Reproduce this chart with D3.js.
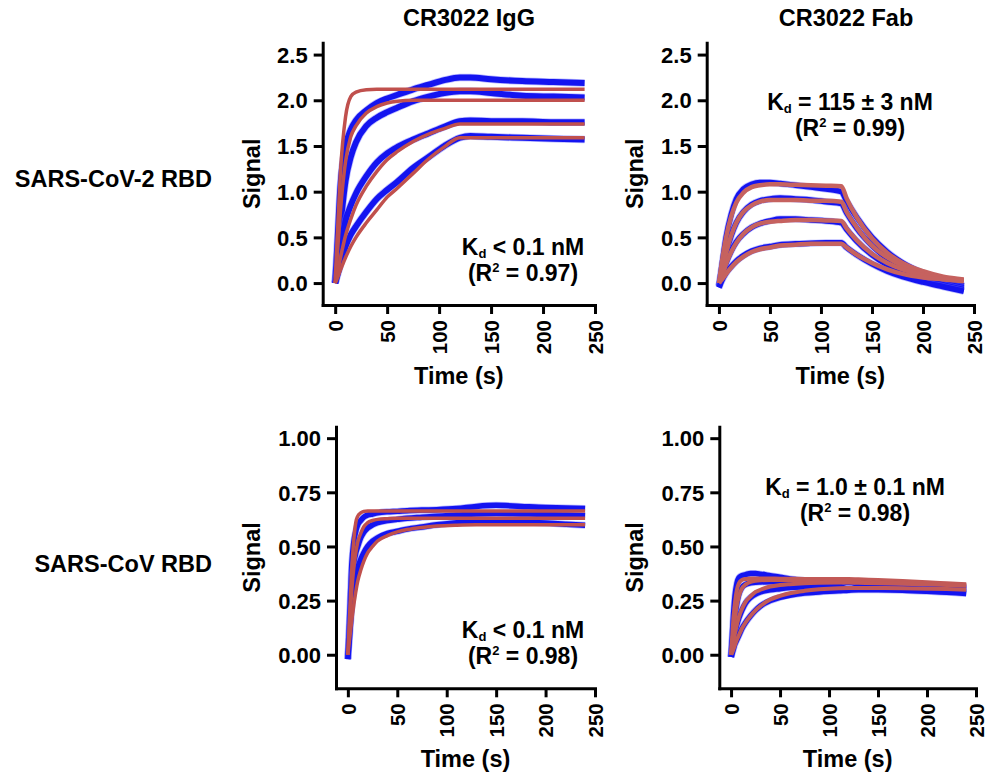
<!DOCTYPE html>
<html><head><meta charset="utf-8">
<script src="https://cdn.jsdelivr.net/npm/d3@7"></script>
<style>
body{margin:0;background:#fff;}
svg text{font-family:"Liberation Sans",Arial,Helvetica,sans-serif;font-weight:bold;fill:#000;}
</style></head><body>
<svg id="chart" width="989" height="777"></svg>
<script>
// ---------------- DATA ----------------
const columnTitles = ["CR3022 IgG", "CR3022 Fab"];
const rowTitles = ["SARS-CoV-2 RBD", "SARS-CoV RBD"];
const xTicks = [0, 50, 100, 150, 200, 250];
const yTicksTop = [0, 0.5, 1.0, 1.5, 2.0, 2.5];
const yTicksBottom = [0, 0.25, 0.5, 0.75, 1.0];
const kdLabels = ["< 0.1 nM", "= 115 ± 3 nM", "< 0.1 nM", "= 1.0 ± 0.1 nM"];
const r2Labels = ["0.97", "0.99", "0.98", "0.98"];

// Panel 1: CR3022 IgG vs SARS-CoV-2 RBD
const p1Time = [0, 2, 5, 10, 15, 20, 30, 40, 50, 60, 75, 90, 105, 120, 130, 150, 180, 210, 240];
const p1Data1 = [0, 0.4, 1.05, 1.5, 1.68, 1.78, 1.89, 1.97, 2.02, 2.06, 2.12, 2.17, 2.22, 2.25, 2.25, 2.23, 2.21, 2.2, 2.19];
const p1Data2 = [0, 0.25, 0.62, 1.12, 1.38, 1.54, 1.72, 1.81, 1.87, 1.92, 1.99, 2.04, 2.08, 2.1, 2.1, 2.08, 2.05, 2.04, 2.03];
const p1Data3 = [0, 0.12, 0.35, 0.68, 0.85, 0.98, 1.17, 1.32, 1.42, 1.49, 1.57, 1.64, 1.71, 1.77, 1.78, 1.77, 1.77, 1.76, 1.76];
const p1Data4 = [0, 0.08, 0.2, 0.4, 0.53, 0.62, 0.78, 0.92, 1.02, 1.11, 1.26, 1.38, 1.5, 1.59, 1.61, 1.6, 1.59, 1.58, 1.57];
const p1Fit1 = [0, 0.5, 1.2, 1.82, 2.04, 2.09, 2.115, 2.12, 2.12, 2.12, 2.12, 2.12, 2.12, 2.12, 2.12, 2.12, 2.12, 2.12, 2.12];
const p1Fit2 = [0, 0.3, 0.78, 1.33, 1.6, 1.72, 1.86, 1.93, 1.97, 1.99, 2, 2, 2, 2, 2, 2, 2, 2, 2];
const p1Fit3 = [0, 0.1, 0.27, 0.52, 0.7, 0.85, 1.06, 1.22, 1.35, 1.44, 1.55, 1.63, 1.69, 1.74, 1.74, 1.74, 1.74, 1.74, 1.74];
const p1Fit4 = [0, 0.05, 0.14, 0.28, 0.4, 0.5, 0.66, 0.8, 0.94, 1.04, 1.2, 1.36, 1.49, 1.59, 1.59, 1.59, 1.59, 1.59, 1.59];

// Panel 2: CR3022 Fab vs SARS-CoV-2 RBD
const p2Time = [0, 3, 7, 12, 17, 24, 32, 40, 50, 60, 75, 90, 105, 120, 125, 135, 150, 165, 180, 200, 220, 240];
const p2Data1 = [-0.03, 0.2, 0.5, 0.75, 0.92, 1.03, 1.08, 1.1, 1.1, 1.09, 1.07, 1.05, 1.03, 1.0, 0.9, 0.72, 0.5, 0.34, 0.22, 0.11, 0.03, -0.03];
const p2Data2 = [-0.03, 0.13, 0.33, 0.52, 0.66, 0.78, 0.86, 0.9, 0.92, 0.93, 0.92, 0.91, 0.89, 0.87, 0.77, 0.6, 0.41, 0.27, 0.17, 0.07, 0.0, -0.05];
const p2Data3 = [-0.04, 0.08, 0.22, 0.35, 0.45, 0.54, 0.61, 0.65, 0.68, 0.7, 0.7, 0.69, 0.68, 0.66, 0.59, 0.46, 0.31, 0.2, 0.12, 0.04, -0.02, -0.07];
const p2Data4 = [-0.05, 0.03, 0.11, 0.18, 0.24, 0.3, 0.35, 0.38, 0.4, 0.42, 0.43, 0.435, 0.44, 0.44, 0.39, 0.31, 0.21, 0.13, 0.07, 0.01, -0.04, -0.09];
const p2Fit1 = [0, 0.24, 0.5, 0.73, 0.88, 0.99, 1.05, 1.07, 1.08, 1.08, 1.075, 1.07, 1.065, 1.06, 0.93, 0.72, 0.49, 0.33, 0.22, 0.13, 0.07, 0.04];
const p2Fit2 = [0, 0.14, 0.33, 0.52, 0.66, 0.78, 0.85, 0.89, 0.91, 0.91, 0.91, 0.9, 0.9, 0.89, 0.78, 0.61, 0.41, 0.28, 0.19, 0.11, 0.06, 0.03];
const p2Fit3 = [0, 0.08, 0.21, 0.34, 0.44, 0.54, 0.61, 0.65, 0.67, 0.68, 0.69, 0.69, 0.685, 0.68, 0.6, 0.47, 0.32, 0.22, 0.15, 0.09, 0.05, 0.03];
const p2Fit4 = [0, 0.04, 0.1, 0.17, 0.23, 0.29, 0.34, 0.37, 0.39, 0.41, 0.42, 0.43, 0.43, 0.43, 0.39, 0.31, 0.22, 0.15, 0.1, 0.06, 0.04, 0.02];

// Panel 3: CR3022 IgG vs SARS-CoV RBD
const p3Time = [0, 2, 4, 6, 8, 10, 13, 16, 20, 25, 30, 40, 50, 60, 75, 90, 110, 130, 150, 175, 200, 220, 240];
const p3Data1 = [-0.02, 0.2, 0.42, 0.52, 0.57, 0.6, 0.62, 0.635, 0.645, 0.65, 0.655, 0.66, 0.662, 0.665, 0.668, 0.67, 0.675, 0.685, 0.69, 0.685, 0.68, 0.678, 0.675];
const p3Data2 = [-0.02, 0.15, 0.33, 0.42, 0.47, 0.5, 0.54, 0.565, 0.585, 0.6, 0.61, 0.62, 0.625, 0.63, 0.635, 0.64, 0.645, 0.65, 0.652, 0.65, 0.648, 0.645, 0.642];
const p3Data3 = [-0.02, 0.1, 0.22, 0.3, 0.36, 0.4, 0.44, 0.47, 0.5, 0.525, 0.54, 0.56, 0.57, 0.58, 0.59, 0.6, 0.61, 0.615, 0.617, 0.613, 0.608, 0.603, 0.598];
const p3Fit1 = [0, 0.2, 0.4, 0.53, 0.61, 0.64, 0.655, 0.662, 0.664, 0.664, 0.664, 0.664, 0.664, 0.664, 0.664, 0.664, 0.664, 0.664, 0.664, 0.664, 0.664, 0.664, 0.664];
const p3Fit2 = [0, 0.16, 0.3, 0.4, 0.47, 0.52, 0.56, 0.59, 0.61, 0.62, 0.625, 0.628, 0.63, 0.63, 0.63, 0.63, 0.63, 0.63, 0.63, 0.63, 0.63, 0.63, 0.63];
const p3Fit3 = [0, 0.08, 0.16, 0.23, 0.29, 0.34, 0.39, 0.43, 0.47, 0.5, 0.525, 0.55, 0.567, 0.578, 0.588, 0.594, 0.598, 0.6, 0.6, 0.6, 0.6, 0.6, 0.6];

// Panel 4: CR3022 Fab vs SARS-CoV RBD
const p4Time = [0, 2, 4, 6, 8, 11, 15, 20, 25, 30, 40, 50, 60, 75, 90, 110, 120, 130, 150, 175, 200, 220, 240];
const p4Data1 = [-0.01, 0.15, 0.27, 0.33, 0.355, 0.365, 0.37, 0.375, 0.375, 0.372, 0.365, 0.358, 0.35, 0.343, 0.338, 0.335, 0.333, 0.332, 0.328, 0.322, 0.315, 0.308, 0.302];
const p4Data2 = [-0.01, 0.1, 0.18, 0.24, 0.28, 0.31, 0.325, 0.332, 0.335, 0.336, 0.337, 0.337, 0.337, 0.337, 0.337, 0.337, 0.336, 0.335, 0.33, 0.325, 0.32, 0.315, 0.31];
const p4Data3 = [-0.01, 0.05, 0.1, 0.14, 0.17, 0.205, 0.24, 0.265, 0.28, 0.29, 0.3, 0.305, 0.31, 0.313, 0.315, 0.316, 0.3, 0.315, 0.313, 0.307, 0.3, 0.295, 0.29];
const p4Data4 = [-0.01, 0.02, 0.05, 0.07, 0.09, 0.12, 0.15, 0.18, 0.205, 0.225, 0.25, 0.265, 0.275, 0.285, 0.29, 0.295, 0.298, 0.3, 0.3, 0.298, 0.293, 0.288, 0.283];
const p4Fit1 = [0, 0.14, 0.24, 0.3, 0.33, 0.345, 0.35, 0.352, 0.352, 0.352, 0.352, 0.351, 0.351, 0.35, 0.35, 0.35, 0.35, 0.348, 0.345, 0.34, 0.335, 0.33, 0.325];
const p4Fit2 = [0, 0.09, 0.17, 0.23, 0.27, 0.305, 0.325, 0.337, 0.342, 0.344, 0.345, 0.345, 0.345, 0.345, 0.344, 0.344, 0.343, 0.342, 0.338, 0.334, 0.33, 0.326, 0.322];
const p4Fit3 = [0, 0.05, 0.1, 0.14, 0.175, 0.21, 0.245, 0.27, 0.29, 0.3, 0.315, 0.322, 0.326, 0.33, 0.332, 0.333, 0.333, 0.332, 0.33, 0.328, 0.325, 0.322, 0.318];
const p4Fit4 = [0, 0.02, 0.045, 0.07, 0.09, 0.12, 0.15, 0.18, 0.205, 0.225, 0.255, 0.272, 0.284, 0.295, 0.302, 0.307, 0.308, 0.308, 0.308, 0.307, 0.305, 0.303, 0.3];

// ---------------- LAYOUT ----------------
const panels = [
  {time: p1Time, data: [p1Data1, p1Data2, p1Data3, p1Data4], fit: [p1Fit1, p1Fit2, p1Fit3, p1Fit4],
   left: 322.7, right: 595, top: 42.7, bottom: 305, xMin: -12, yDom: [-0.24, 2.63], yTicks: yTicksTop, fmt: ".1f",
   annX: 523, annY: 255, sigX: 260, blueW: 6, redW: 3.5, red: "#c0504d"},
  {time: p2Time, data: [p2Data1, p2Data2, p2Data3, p2Data4], fit: [p2Fit1, p2Fit2, p2Fit3, p2Fit4],
   left: 706.7, right: 974, top: 42.7, bottom: 305, xMin: -12, yDom: [-0.24, 2.63], yTicks: yTicksTop, fmt: ".1f",
   annX: 850, annY: 110, sigX: 643, blueW: 5.5, redW: 4.5, red: "#c6625f"},
  {time: p3Time, data: [p3Data1, p3Data2, p3Data3], fit: [p3Fit1, p3Fit2, p3Fit3],
   left: 336, right: 595, top: 426.7, bottom: 688.3, xMin: -12, yDom: [-0.155, 1.053], yTicks: yTicksBottom, fmt: ".2f",
   annX: 523, annY: 638, sigX: 260, blueW: 5.5, redW: 3.5, red: "#c0504d"},
  {time: p4Time, data: [p4Data1, p4Data2, p4Data3, p4Data4], fit: [p4Fit1, p4Fit2, p4Fit3, p4Fit4],
   left: 719.3, right: 976, top: 426.7, bottom: 688.3, xMin: -12, yDom: [-0.155, 1.053], yTicks: yTicksBottom, fmt: ".2f",
   annX: 855, annY: 495, sigX: 643, blueW: 5.5, redW: 4, red: "#c25a57"}
];

const svg = d3.select("#chart");
const BLUE = "#1414f0";

// Column titles
[[469, columnTitles[0]], [846, columnTitles[1]]].forEach(([x, t]) =>
  svg.append("text").attr("x", x).attr("y", 26).attr("text-anchor", "middle").style("font-size", "23.5px").text(t));
// Row titles
[[187, rowTitles[0]], [572, rowTitles[1]]].forEach(([y, t]) =>
  svg.append("text").attr("x", 212).attr("y", y).attr("text-anchor", "end").style("font-size", "23.5px").text(t));

panels.forEach((p, i) => {
  const x = d3.scaleLinear().domain([p.xMin, 250]).range([p.left, p.right]);
  const y = d3.scaleLinear().domain(p.yDom).range([p.bottom, p.top]);
  const g = svg.append("g");

  const line = d3.line().x(d => x(d[0])).y(d => y(d[1])).curve(d3.curveMonotoneX);

  // data traces (blue)
  p.data.forEach(vals => {
    const pts = p.time.map((t, k) => [t, vals[k]]);
    g.append("path").attr("d", line(pts)).attr("fill", "none").attr("stroke", "#6a6aff")
      .attr("stroke-width", p.blueW + 1.5).attr("stroke-opacity", 0.45).attr("stroke-linejoin", "round");
    g.append("path").attr("d", line(pts)).attr("fill", "none").attr("stroke", BLUE)
      .attr("stroke-width", p.blueW).attr("stroke-linejoin", "round");
  });
  // fits (red)
  p.fit.forEach(vals => {
    const pts = p.time.map((t, k) => [t, vals[k]]);
    g.append("path").attr("d", line(pts)).attr("fill", "none").attr("stroke", p.red)
      .attr("stroke-width", p.redW).attr("stroke-linejoin", "round");
  });

  // axes
  const xAxis = d3.axisBottom(x).tickValues(xTicks).tickSize(9).tickSizeOuter(0).tickFormat(d3.format("d"));
  const yAxis = d3.axisLeft(y).tickValues(p.yTicks).tickSize(9).tickSizeOuter(0).tickFormat(d3.format(p.fmt));
  const gx = g.append("g").attr("transform", `translate(0,${p.bottom})`).call(xAxis);
  const gy = g.append("g").attr("transform", `translate(${p.left},0)`).call(yAxis);
  [gx, gy].forEach(a => {
    a.select(".domain").attr("stroke", "#000").attr("stroke-width", 3).attr("stroke-linecap", "square");
    a.selectAll(".tick line").attr("stroke", "#000").attr("stroke-width", 3);
    a.selectAll(".tick text").attr("fill", "#000");
  });
  gy.selectAll(".tick text").style("font-size", "22px").attr("x", -15).attr("dy", "0.35em");
  gx.selectAll(".tick text").style("font-size", "20.5px").attr("transform", "rotate(-90)").attr("text-anchor", "end")
    .attr("x", -15).attr("y", 0).attr("dy", "0.35em");

  // axis titles
  g.append("text").attr("transform", `translate(${p.sigX},${(p.top + p.bottom) / 2}) rotate(-90)`)
    .attr("text-anchor", "middle").style("font-size", "23.5px").text("Signal");
  g.append("text").attr("x", (p.left + p.right) / 2).attr("y", p.bottom + 79)
    .attr("text-anchor", "middle").style("font-size", "23.5px").text("Time (s)");

  // annotation
  const a1 = g.append("text").attr("x", p.annX).attr("y", p.annY).attr("text-anchor", "middle").style("font-size", "23px");
  a1.append("tspan").text("K");
  a1.append("tspan").attr("dy", 3).style("font-size", "13px").text("d");
  a1.append("tspan").attr("dy", -3).text(" " + kdLabels[i]);
  const a2 = g.append("text").attr("x", p.annX).attr("y", p.annY + 26).attr("text-anchor", "middle").style("font-size", "23px");
  a2.append("tspan").text("(R");
  a2.append("tspan").attr("dy", -9).style("font-size", "13px").text("2");
  a2.append("tspan").attr("dy", 9).text(" = " + r2Labels[i] + ")");
});
</script>
</body></html>
